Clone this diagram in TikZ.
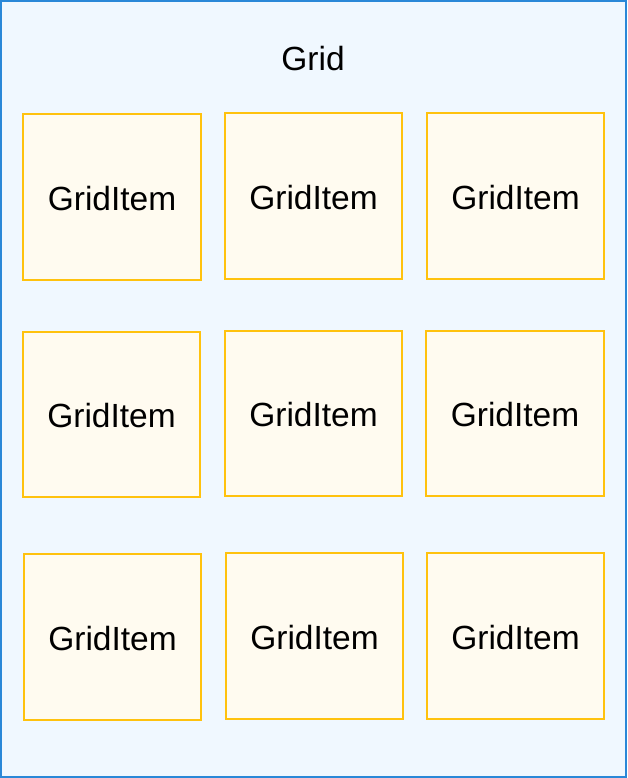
\documentclass[tikz,border=0pt]{standalone}
\usepackage{fontspec}
\setmainfont{Liberation Sans}
\definecolor{gridblue}{HTML}{2A88D8}
\definecolor{gridbg}{HTML}{F0F8FF}
\definecolor{itemborder}{HTML}{FFC20E}
\definecolor{itembg}{HTML}{FFFBF0}
\begin{document}
\begin{tikzpicture}[x=1pt,y=-1pt,
  itembox/.style={draw=itemborder,fill=itembg,line width=1.6pt},
  itemlabel/.style={font=\fontsize{33.5}{38}\selectfont,inner sep=0pt,yshift=-1.5pt}]
\useasboundingbox (0,0) rectangle (627,778);
\draw[draw=gridblue,fill=gridbg,line width=2.2pt] (1.1,1.1) rectangle (625.9,776.9);
\node[itemlabel] (title) at (313,57) {Grid};
% row 1
\draw[itembox] (23,114) rectangle (201,280) node[midway,itemlabel] (i11) {GridItem};
\draw[itembox] (225,113) rectangle (402,279) node[midway,itemlabel] (i12) {GridItem};
\draw[itembox] (427,113) rectangle (604,279) node[midway,itemlabel] (i13) {GridItem};
% row 2
\draw[itembox] (23,332) rectangle (200,497) node[midway,itemlabel] (i21) {GridItem};
\draw[itembox] (225,331) rectangle (402,496) node[midway,itemlabel] (i22) {GridItem};
\draw[itembox] (426,331) rectangle (604,496) node[midway,itemlabel] (i23) {GridItem};
% row 3
\draw[itembox] (24,554) rectangle (201,720) node[midway,itemlabel] (i31) {GridItem};
\draw[itembox] (226,553) rectangle (403,719) node[midway,itemlabel] (i32) {GridItem};
\draw[itembox] (427,553) rectangle (604,719) node[midway,itemlabel] (i33) {GridItem};
\end{tikzpicture}
\end{document}
